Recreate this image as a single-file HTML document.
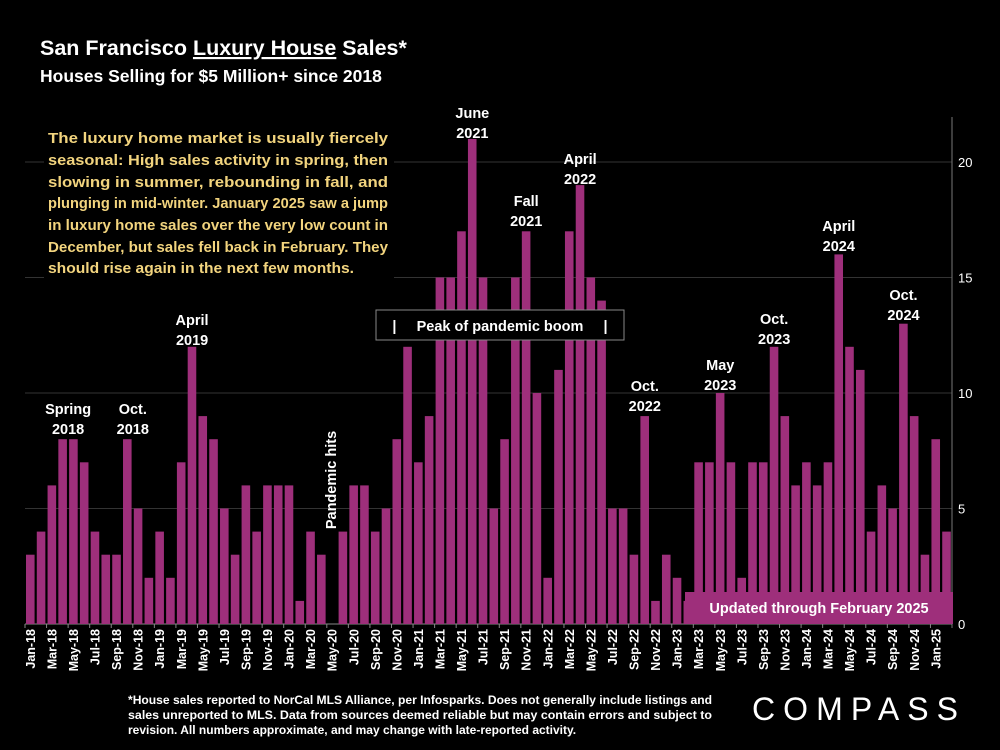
<!DOCTYPE html>
<html><head><meta charset="utf-8"><style>
html,body{margin:0;padding:0;background:#000;width:1000px;height:750px;overflow:hidden}
svg text{font-family:"Liberation Sans",sans-serif}
</style></head><body>
<svg id="chart" width="1000" height="750" viewBox="0 0 1000 750" xmlns="http://www.w3.org/2000/svg">
<rect width="1000" height="750" fill="#000"/>
<text x="40" y="55" fill="#fff" font-size="21.5" font-weight="bold">San Francisco <tspan text-decoration="underline">Luxury House</tspan> Sales*</text>
<text x="40" y="82" fill="#fff" font-size="17.5" font-weight="bold">Houses Selling for $5 Million+ since 2018</text>
<g id="grid"></g>
<g id="bars"></g>
<g id="xlabels"></g>
<g id="ylabels"></g>
<rect x="44" y="122" width="350" height="160" fill="#000"/>
<g fill="#f2d47e" font-size="15" font-weight="bold">
<text x="48" y="143" textLength="340" lengthAdjust="spacingAndGlyphs">The luxury home market is usually fiercely</text>
<text x="48" y="165" textLength="340" lengthAdjust="spacingAndGlyphs">seasonal:  High sales activity in spring, then</text>
<text x="48" y="187" textLength="340" lengthAdjust="spacingAndGlyphs">slowing in summer, rebounding in fall, and</text>
<text x="48" y="208" textLength="340" lengthAdjust="spacingAndGlyphs">plunging in mid-winter. January 2025 saw a jump</text>
<text x="48" y="230" textLength="340" lengthAdjust="spacingAndGlyphs">in luxury home sales over the very low count in</text>
<text x="48" y="252" textLength="340" lengthAdjust="spacingAndGlyphs">December, but sales fell back in February. They</text>
<text x="48" y="273" textLength="306" lengthAdjust="spacingAndGlyphs">should rise again in the next few months.</text>
</g>
<rect x="376" y="310" width="248" height="30" fill="#000" stroke="#888" stroke-width="1"/>
<text x="500" y="331" fill="#fff" font-size="14.5" font-weight="bold" text-anchor="middle" xml:space="preserve">|     Peak of pandemic boom     |</text>
<rect x="685" y="592" width="268" height="32" fill="#9e2f7b"/>
<text x="819" y="613" fill="#fff" font-size="14.5" font-weight="bold" text-anchor="middle">Updated through February 2025</text>
<g id="annots" fill="#fff" font-size="14.5" font-weight="bold" text-anchor="middle"></g>
<text transform="translate(336,480) rotate(-90)" fill="#fff" font-size="14.5" font-weight="bold" text-anchor="middle">Pandemic hits</text>
<g fill="#fff" font-size="12" font-weight="bold">
<text x="128" y="704" textLength="584" lengthAdjust="spacingAndGlyphs">*House sales reported to NorCal MLS Alliance, per Infosparks. Does not generally include listings and</text>
<text x="128" y="719" textLength="584" lengthAdjust="spacingAndGlyphs">sales unreported to MLS. Data from sources deemed reliable but may contain errors and subject to</text>
<text x="128" y="734">revision.  All numbers approximate, and may change with late-reported activity.</text>
</g>
<text x="752" y="720" fill="#fff" font-size="32" textLength="206" lengthAdjust="spacing">COMPASS</text>
</svg>
<script>
const months = ["Jan","Feb","Mar","Apr","May","Jun","Jul","Aug","Sep","Oct","Nov","Dec"];
const values = [3,4,6,8,8,7,4,3,3,8,5,2, 4,2,7,12,9,8,5,3,6,4,6,6, 6,1,4,3,0,4,6,6,4,5,8,12, 7,9,15,15,17,21,15,5,8,15,17,10, 2,11,17,19,15,14,5,5,3,9,1,3, 2,1,7,7,10,7,2,7,7,12,9,6, 7,6,7,16,12,11,4,6,5,13,9,3, 8,4];
const yTicks = [0,5,10,15,20];
const annotations = [["Spring","2018",3.5],["Oct.","2018",9.5],["April","2019",15],["June","2021",41],["Fall","2021",46],["April","2022",51],["Oct.","2022",57],["May","2023",64],["Oct.","2023",69],["April","2024",75],["Oct.","2024",81]];
const annotTops = [400,400,311,104,192,150,377,356,310,217,286];
const NS="http://www.w3.org/2000/svg";
const x0=25, x1=952, y0=624, py=23.1;
const slot=(x1-x0)/values.length;
const xs=i=>x0+slot*i;
const ys=v=>y0-v*py;
function mk(tag,attrs,parent){const e=document.createElementNS(NS,tag);for(const k in attrs)e.setAttribute(k,attrs[k]);parent.appendChild(e);return e;}
const grid=document.getElementById('grid'), bars=document.getElementById('bars'), xl=document.getElementById('xlabels'), yl=document.getElementById('ylabels'), an=document.getElementById('annots');
yTicks.forEach(t=>{
  if(t>0){const l=mk('line',{x1:x0,x2:x1,y1:ys(t),y2:ys(t),stroke:'#333','stroke-width':1},grid);
  
  }
  const tx=mk('text',{x:958,y:ys(t)+5,fill:'#fff','font-size':13},yl);
  tx.textContent=t;
  
  
});
const ax=mk('line',{x1:x1,x2:x1,y1:117,y2:y0+4,stroke:'#777','stroke-width':1},grid);


const bx=mk('line',{x1:x0,x2:x1,y1:y0,y2:y0,stroke:'#888','stroke-width':1},grid);


values.forEach((v,i)=>{
  const r=mk('rect',{x:xs(i)+1,y:ys(v),width:slot-2.2,height:v*py,fill:'#9e2f7b'},bars);
  
  
  if(i%2===0){
    const tk=mk('line',{x1:xs(i),x2:xs(i),y1:y0,y2:y0+4,stroke:'#888'},grid);
    
    
    const cx=xs(i)+slot/2+4.5;
    const t=mk('text',{transform:`translate(${cx},${y0+5}) rotate(-90)`,fill:'#fff','font-size':12.5,'font-weight':'bold','text-anchor':'end'},xl);
    t.textContent=months[i%12]+'-'+(18+Math.floor(i/12));
    
    
  }
});
annotations.forEach((a,k)=>{
  const cx=xs(a[2])+slot/2, top=annotTops[k];
  const t1=mk('text',{x:cx,y:top+14},an); t1.textContent=a[0];
  
  
  const t2=mk('text',{x:cx,y:top+34},an); t2.textContent=a[1];
  
  
});
</script>
</body></html>
